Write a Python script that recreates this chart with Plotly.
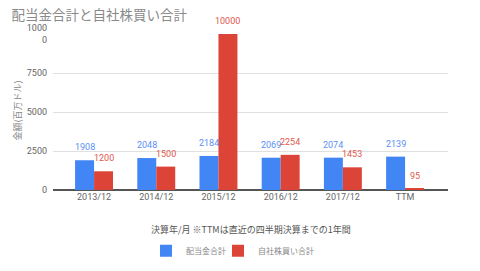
import plotly.graph_objects as go

categories = ["2013/12", "2014/12", "2015/12", "2016/12", "2017/12", "TTM"]
dividends = [1908, 2048, 2184, 2069, 2074, 2139]
buybacks = [1200, 1500, 10000, 2254, 1453, 95]
ytick_vals = [0, 2500, 5000, 7500, 10000]
ytick_text = ["0", "2500", "5000", "7500", "1000<br>0"]

BLUE = "#4285F4"
RED = "#DB4437"
FONT = "Roboto, 'Noto Sans CJK JP', sans-serif"
JFONT = "'Noto Sans CJK JP', Roboto, sans-serif"

fig = go.Figure()
fig.add_bar(x=categories, y=dividends, name="配当金合計", marker_color=BLUE,
            marker_line_width=0, legend="legend")
fig.add_bar(x=categories, y=buybacks, name="自社株買い合計", marker_color=RED,
            marker_line_width=0, legend="legend2")

annotations = []
for c, v in zip(categories, dividends):
    annotations.append(dict(x=c, y=v, text=str(v), xref="x", yref="y", showarrow=False,
                            xshift=-9.5, yshift=6, yanchor="bottom",
                            font=dict(size=9, color="#5a8ff5", family=FONT)))
for c, v in zip(categories, buybacks):
    annotations.append(dict(x=c, y=v, text=str(v), xref="x", yref="y", showarrow=False,
                            xshift=9.5, yshift=6, yanchor="bottom",
                            font=dict(size=9, color="#e0584d", family=FONT)))
annotations.append(dict(text="決算年/月 ※TTMは直近の四半期決算までの1年間", xref="paper", yref="paper",
                        x=0.5, y=-0.25, xanchor="center", yanchor="middle", showarrow=False,
                        font=dict(size=9, color="#555", family=JFONT)))
annotations.append(dict(text="金額(百万ドル)", xref="paper", yref="paper", textangle=-90,
                        x=-0.091, y=0.51, xanchor="center", yanchor="middle", showarrow=False,
                        font=dict(size=9, color="#888", family=JFONT)))

leg_common = dict(orientation="h", y=-0.39, yanchor="middle", xanchor="left",
                  font=dict(size=8, color="#888", family=JFONT), itemwidth=30,
                  bgcolor="rgba(0,0,0,0)")

fig.update_layout(
    width=480, height=271,
    margin=dict(l=53, r=32, t=34, b=81, autoexpand=False),
    paper_bgcolor="white", plot_bgcolor="white",
    barmode="group", bargap=0.39, bargroupgap=0,
    title=dict(text="配当金合計と自社株買い合計", x=0.024, xanchor="left", y=0.945, yanchor="middle",
               font=dict(size=13.5, color="#8a8a8a", family=JFONT)),
    font=dict(family=FONT, size=9, color="#444"),
    annotations=annotations,
    showlegend=True,
    legend=dict(x=0.2354, **leg_common),
    legend2=dict(x=0.4177, **leg_common),
    xaxis=dict(range=[-0.66, 5.69], showgrid=False, showline=False, ticks="",
               automargin=False, tickfont=dict(size=9, color="#666")),
    yaxis=dict(range=[0, 10000], tickvals=ytick_vals, ticktext=ytick_text,
               showgrid=True, gridcolor="#e0e0e0", gridwidth=1, automargin=False,
               zeroline=True, zerolinecolor="#555", zerolinewidth=1.5,
               tickfont=dict(size=9, color="#666"), ticklabelstandoff=5),
)

fig.write_html("out.html")
